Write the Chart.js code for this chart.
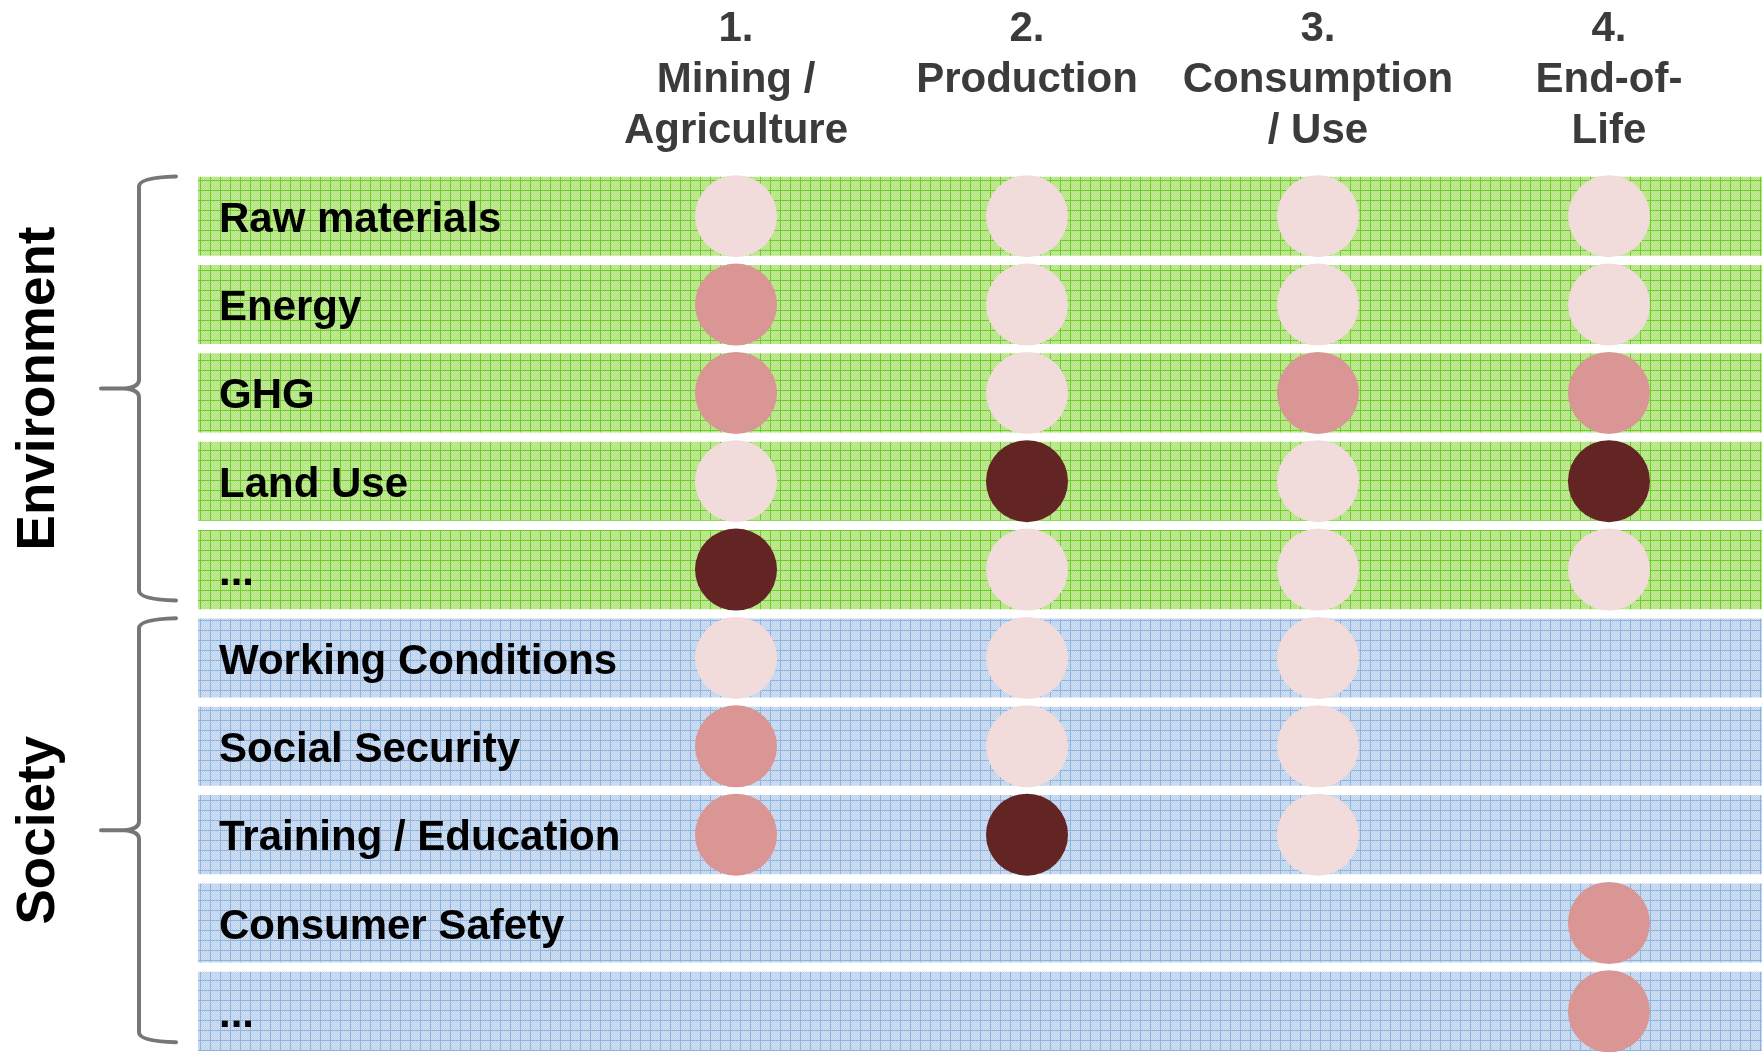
<!DOCTYPE html>
<html>
<head>
<meta charset="utf-8">
<title>Sustainability hotspots along the life cycle</title>
<script src="https://cdn.jsdelivr.net/npm/chart.js@4/dist/chart.umd.min.js"></script>
<style>
  html, body { margin: 0; padding: 0; background: #fff; }
  #wrap { width: 1762px; height: 1052px; position: relative; }
</style>
</head>
<body>
<div id="wrap"><canvas id="main-chart"></canvas></div>
<script>
// ---- Data ----
const stageLabels = [
  ["1.", "Mining /", "Agriculture"],
  ["2.", "Production"],
  ["3.", "Consumption", "/ Use"],
  ["4.", "End-of-", "Life"],
];

const rowLabels = [
  "Raw materials", "Energy", "GHG", "Land Use", "...",
  "Working Conditions", "Social Security", "Training / Education", "Consumer Safety", "...",
];

const rowGroups = [
  "Environment", "Environment", "Environment", "Environment", "Environment",
  "Society", "Society", "Society", "Society", "Society",
];

// relevance per row: 0 = none, 1 = low, 2 = medium, 3 = high
const mining      = [1, 2, 2, 1, 3, 1, 2, 2, 0, 0];
const production  = [1, 1, 1, 3, 1, 1, 1, 3, 0, 0];
const consumption = [1, 1, 2, 1, 1, 1, 1, 1, 0, 0];
const endOfLife   = [1, 1, 2, 3, 1, 0, 0, 0, 2, 2];

const LEVEL_COLOURS = { 1: "#F2DCDB", 2: "#D99694", 3: "#632523" };

// x range so the row bands run the full width
const X_MIN = -0.849;
const X_MAX = 4.526;

const FONT = "'Liberation Sans', Arial, sans-serif";

// ---- Patterned fills (small grid, like the office pattern fill) ----
function makePattern(base, light, line) {
  const tile = document.createElement("canvas");
  tile.width = tile.height = 10;
  const g = tile.getContext("2d");
  g.fillStyle = base;
  g.fillRect(0, 0, 10, 10);
  g.fillStyle = light;
  for (let y = 0; y < 10; y++) {
    for (let x = 0; x < 10; x++) {
      if ((x + y) % 2 === 0) g.fillRect(x, y, 1, 1);
    }
  }
  g.fillStyle = line;
  g.fillRect(0, 0, 10, 1);
  g.fillRect(0, 0, 1, 10);
  return g.createPattern(tile, "repeat");
}

const greenFill = makePattern("#B2E27E", "#C5EC9C", "#6FCC2C");
const blueFill = makePattern("#BAD0EA", "#D3E2F4", "#8EB3DF");

// ---- Build datasets ----
const bandData = rowLabels.map((_, i) => ({ y: i, x: [X_MIN, X_MAX] }));

const points = [];
[mining, production, consumption, endOfLife].forEach((col, c) => {
  col.forEach((lvl, r) => {
    if (lvl) points.push({ x: c + 1, y: r, lvl });
  });
});

// Braces + group titles on the left
const groupPlugin = {
  id: "groups",
  afterDraw(chart) {
    const ctx = chart.ctx;
    const y = chart.scales.y;
    const groups = [...new Set(rowGroups)];
    groups.forEach((name) => {
      const first = rowGroups.indexOf(name);
      const last = rowGroups.lastIndexOf(name);
      const top = y.getPixelForValue(first - 0.45);
      const bottom = y.getPixelForValue(last + 0.35);
      const mid = (top + bottom) / 2;
      const xv = 139, xe = 176, xp = 101;

      ctx.save();
      ctx.strokeStyle = "#767676";
      ctx.lineWidth = 4;
      ctx.lineCap = "round";
      ctx.lineJoin = "round";
      ctx.beginPath();
      ctx.moveTo(xe, top);
      ctx.quadraticCurveTo(xv, top + 1, xv, top + 10);
      ctx.lineTo(xv, mid - 9);
      ctx.quadraticCurveTo(xv, mid - 1, 124, mid);
      ctx.lineTo(xp, mid);
      ctx.moveTo(124, mid);
      ctx.quadraticCurveTo(xv, mid + 1, xv, mid + 9);
      ctx.lineTo(xv, bottom - 10);
      ctx.quadraticCurveTo(xv, bottom - 1, xe, bottom);
      ctx.stroke();

      ctx.translate(54, mid);
      ctx.rotate(-Math.PI / 2);
      ctx.fillStyle = "#000";
      ctx.font = "bold 53px " + FONT;
      ctx.textAlign = "center";
      ctx.textBaseline = "alphabetic";
      ctx.fillText(name, 0, 0);
      ctx.restore();
    });
  },
};

const chart = new Chart(document.getElementById("main-chart"), {
  data: {
    datasets: [
      {
        type: "scatter",
        data: points,
        pointRadius: 41,
        pointHoverRadius: 41,
        pointBorderWidth: 0,
        pointBackgroundColor: points.map((p) => LEVEL_COLOURS[p.lvl]),
      },
      {
        type: "bar",
        indexAxis: "y",
        data: bandData,
        backgroundColor: rowGroups.map((g) => (g === "Environment" ? greenFill : blueFill)),
        borderWidth: 0,
        barPercentage: 0.895,
        categoryPercentage: 1,
      },
    ],
  },
  options: {
    responsive: true,
    maintainAspectRatio: false,
    animation: false,
    events: [],
    layout: { padding: 0, autoPadding: false },
    plugins: {
      legend: { display: false },
      tooltip: { enabled: false },
    },
    scales: {
      x: {
        type: "linear",
        position: "top",
        bounds: "data",
        offset: false,
        min: X_MIN,
        max: X_MAX,
        grid: { display: false, drawTicks: false },
        border: { display: false },
        afterBuildTicks: (scale) => {
          scale.ticks = stageLabels.map((_, i) => ({ value: i + 1 }));
        },
        afterFit: (scale) => {
          scale.height = 172;
          scale.paddingLeft = 0;
          scale.paddingRight = 0;
        },
        ticks: {
          callback: (v) => stageLabels[v - 1],
          crossAlign: "far",
          padding: 15,
          autoSkip: false,
          maxRotation: 0,
          minRotation: 0,
          color: "#3B3B3B",
          font: { family: FONT, size: 42, weight: "bold", lineHeight: 1.214 },
        },
      },
      y: {
        type: "linear",
        reverse: true,
        bounds: "data",
        offset: false,
        min: -0.5,
        max: 9.46,
        grid: { display: false, drawTicks: false, offset: false },
        border: { display: false },
        afterBuildTicks: (scale) => {
          scale.ticks = rowLabels.map((_, i) => ({ value: i }));
        },
        afterFit: (scale) => {
          scale.width = 198;
          scale.paddingTop = 0;
          scale.paddingBottom = 0;
        },
        ticks: {
          callback: (v) => rowLabels[v],
          mirror: true,
          padding: 21,
          labelOffset: 4,
          z: 1,
          autoSkip: false,
          color: "#000",
          font: { family: FONT, size: 42, weight: "bold" },
        },
      },
    },
  },
  plugins: [groupPlugin],
});
</script>
</body>
</html>
